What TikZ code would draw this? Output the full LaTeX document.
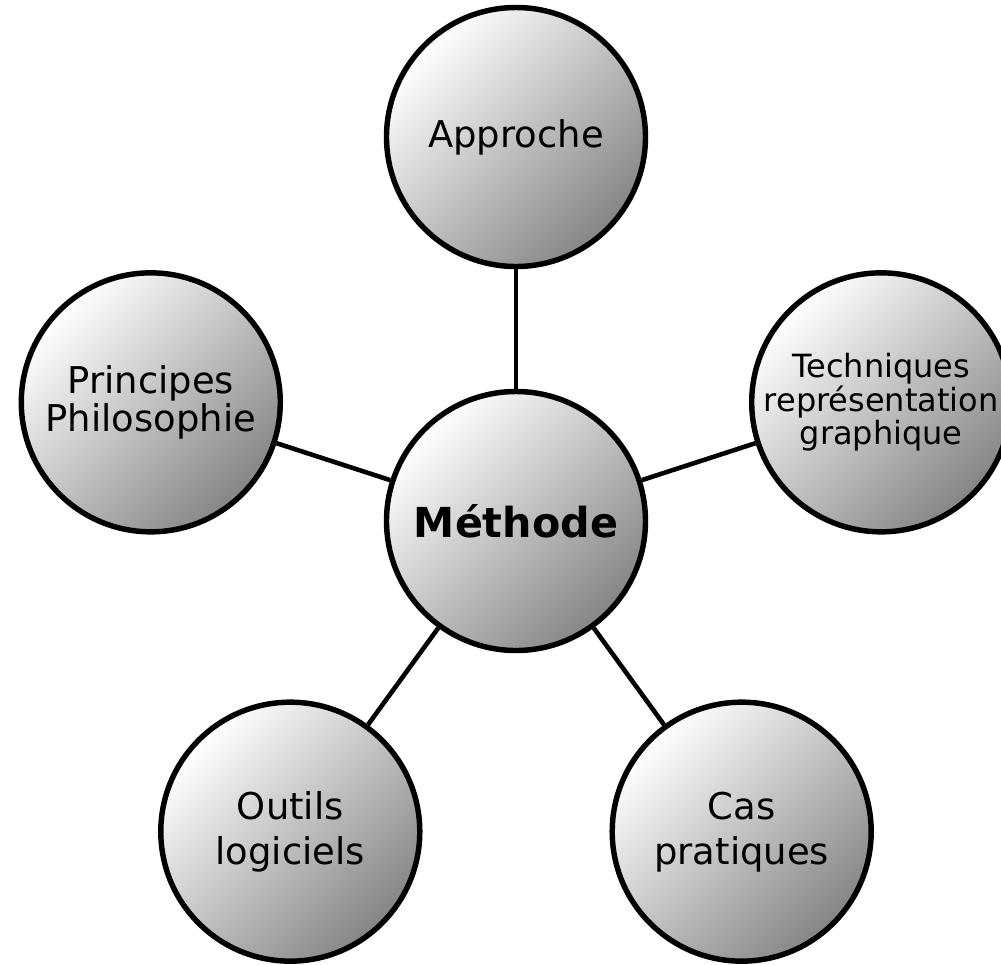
\documentclass[tikz,border=0pt]{standalone}
\usepackage{fontspec}
\setmainfont{DejaVu Sans}
\usetikzlibrary{positioning}

\begin{document}
\begin{tikzpicture}[
    ball/.style={draw, circle, line width=3.1pt, minimum size=5.18cm, inner sep=0pt, align=center,
        shading=axis, top color=white, bottom color=black!48, shading angle=45,
        font=\fontsize{21}{21.8}\selectfont},
    link/.style={line width=2.6pt}
]
    \useasboundingbox (0,0) rectangle (20.02,-19.30);

    \node[ball, font=\fontsize{23.5}{28}\selectfont\bfseries] (methode) at (10.32,-10.42) {Méthode};
    \node[ball] (approche) at ([shift={(90:7.68)}]methode.center) {Approche};
    \node[ball, font=\fontsize{18.2}{19.2}\selectfont] (techniques) at ([shift={(18:7.68)}]methode.center) {Techniques\\représentation\\graphique};
    \node[ball] (principes) at ([shift={(162:7.68)}]methode.center) {Principes\\Philosophie};
    \node[ball, font=\fontsize{21}{25.6}\selectfont] (outils) at ([shift={(234:7.68)}]methode.center) {Outils\\logiciels};
    \node[ball, font=\fontsize{21}{25.6}\selectfont] (cas) at ([shift={(306:7.68)}]methode.center) {Cas\\pratiques};

    \draw[link] (methode) -- (approche);
    \draw[link] (methode) -- (techniques);
    \draw[link] (methode) -- (principes);
    \draw[link] (methode) -- (outils);
    \draw[link] (methode) -- (cas);
\end{tikzpicture}
\end{document}
